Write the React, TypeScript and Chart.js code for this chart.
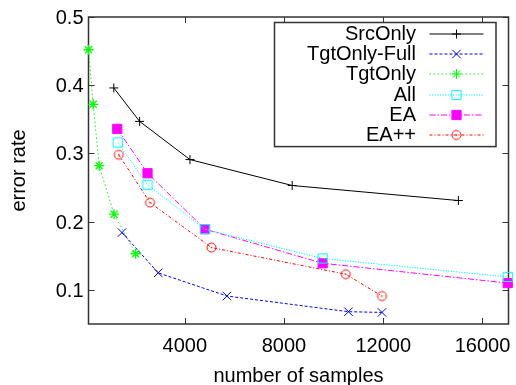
import React, { useEffect, useRef } from "react";
import { Chart, registerables } from "chart.js";
import { drawPoint } from "chart.js/helpers";

Chart.register(...registerables);

// ---- data ----
const seriesNames = ["SrcOnly", "TgtOnly-Full", "TgtOnly", "All", "EA", "EA++"];

const srcOnlyX = [1140, 2180, 4210, 8330, 15030];
const srcOnlyY = [0.396, 0.347, 0.291, 0.253, 0.231];

const tgtFullX = [1470, 2930, 5700, 10600, 11950];
const tgtFullY = [0.184, 0.125, 0.091, 0.068, 0.067];

const tgtOnlyX = [120, 310, 550, 1150, 2020];
const tgtOnlyY = [0.452, 0.372, 0.282, 0.211, 0.153];

const allX = [1300, 2500, 4810, 9560, 17020];
const allY = [0.316, 0.254, 0.189, 0.146, 0.119];

const eaX = [1280, 2500, 4820, 9560, 17020];
const eaY = [0.336, 0.271, 0.189, 0.139, 0.11];

const eappX = [1340, 2600, 5080, 10490, 11950];
const eappY = [0.298, 0.228, 0.162, 0.123, 0.091];

const xTicks = [4000, 8000, 12000, 16000];
const yTicks = [0.1, 0.2, 0.3, 0.4, 0.5];
const xRange = [120, 17050];
const yRange = [0.05, 0.5];

const xTitle = "number of samples";
const yTitle = "error rate";

// ---- styles ----
const FONT = "'Liberation Sans', Arial, Helvetica, sans-serif";
const colors = ["#000000", "#0000ff", "#00ff00", "#00ffff", "#ff00ff", "#ff0000"];
const dashes: number[][] = [[], [3, 2], [1.5, 2.5], [1.3, 1.3], [6, 2, 1.5, 2], [3, 2, 1, 2]];
const radii = [4.5, 6, 5, 6.5, 6.5, 5];
const filled = [true, true, true, false, true, false];

function makeCircleDot(r: number, color: string) {
  const size = Math.ceil(2 * r + 4);
  const c = document.createElement("canvas");
  c.width = size;
  c.height = size;
  const ctx = c.getContext("2d")!;
  ctx.strokeStyle = color;
  ctx.fillStyle = color;
  ctx.lineWidth = 1;
  ctx.beginPath();
  ctx.arc(size / 2, size / 2, r, 0, Math.PI * 2);
  ctx.stroke();
  ctx.beginPath();
  ctx.arc(size / 2, size / 2, 0.8, 0, Math.PI * 2);
  ctx.fill();
  return c;
}

const zip = (xs: number[], ys: number[]) => xs.map((x, i) => ({ x, y: ys[i] }));

// frame, inward ticks, tick labels and axis titles in gnuplot style
const frameAndTicks = {
  id: "frameAndTicks",
  beforeDatasetsDraw(chart: any) {
    const { ctx, chartArea: a, scales } = chart;
    ctx.save();
    ctx.strokeStyle = "#333";
    ctx.lineWidth = 1.5;
    ctx.strokeRect(a.left, a.top, a.right - a.left, a.bottom - a.top);
    ctx.lineWidth = 1;
    ctx.beginPath();
    const tl = 6;
    for (const t of scales.x.ticks) {
      const px = Math.round(scales.x.getPixelForValue(t.value)) + 0.5;
      ctx.moveTo(px, a.bottom);
      ctx.lineTo(px, a.bottom - tl);
      ctx.moveTo(px, a.top);
      ctx.lineTo(px, a.top + tl);
    }
    for (const t of scales.y.ticks) {
      const py = Math.round(scales.y.getPixelForValue(t.value)) + 0.5;
      ctx.moveTo(a.left, py);
      ctx.lineTo(a.left + tl, py);
      ctx.moveTo(a.right, py);
      ctx.lineTo(a.right - tl, py);
    }
    ctx.stroke();

    ctx.fillStyle = "#000";
    ctx.font = `20px ${FONT}`;
    ctx.textBaseline = "alphabetic";
    ctx.textAlign = "center";
    for (const t of scales.x.ticks) {
      const px = scales.x.getPixelForValue(t.value);
      ctx.fillText(String(t.value), px, a.bottom + 28);
    }
    ctx.textAlign = "right";
    for (const t of scales.y.ticks) {
      const py = scales.y.getPixelForValue(t.value);
      ctx.fillText(Number(t.value).toFixed(1), a.left - 5, py + 7);
    }
    ctx.textAlign = "center";
    ctx.fillText(xTitle, (a.left + a.right) / 2, a.bottom + 57.5);
    ctx.save();
    ctx.translate(25, (a.top + a.bottom) / 2);
    ctx.rotate(-Math.PI / 2);
    ctx.fillText(yTitle, 0, 0);
    ctx.restore();
    ctx.restore();
  },
};

let pointStyles: any[] = [];

const gnuLegend = {
  id: "gnuLegend",
  afterDatasetsDraw(chart: any) {
    const { ctx, chartArea: a } = chart;
    const boxLeft = a.left + 186;
    const boxRight = a.right - 12.5;
    const boxTop = a.top + 5.5;
    const rowH = 20.35;
    const n = seriesNames.length;
    const boxBottom = boxTop + 10.5 + rowH * n - 8.5;
    ctx.save();
    ctx.fillStyle = "#fff";
    ctx.fillRect(boxLeft, boxTop, boxRight - boxLeft, boxBottom - boxTop);
    ctx.strokeStyle = "#333";
    ctx.lineWidth = 1.5;
    ctx.strokeRect(boxLeft, boxTop, boxRight - boxLeft, boxBottom - boxTop);
    ctx.restore();
    const textRight = boxRight - 80;
    const lineL = boxRight - 66.5;
    const lineR = boxRight - 12.5;
    for (let i = 0; i < n; i++) {
      const y = Math.round(boxTop + 11 + rowH * i);
      ctx.save();
      ctx.font = `20px ${FONT}`;
      ctx.textAlign = "right";
      ctx.textBaseline = "alphabetic";
      ctx.fillStyle = "#000";
      ctx.fillText(seriesNames[i], textRight, y + 5.5);
      ctx.restore();

      ctx.save();
      ctx.strokeStyle = colors[i];
      ctx.lineWidth = 1;
      ctx.setLineDash(dashes[i]);
      ctx.beginPath();
      ctx.moveTo(lineL, y);
      ctx.lineTo(lineR, y);
      ctx.stroke();
      ctx.restore();

      ctx.save();
      ctx.setLineDash([]);
      ctx.strokeStyle = colors[i];
      ctx.fillStyle = filled[i] ? colors[i] : "rgba(0,0,0,0)";
      ctx.lineWidth = 1;
      drawPoint(
        ctx,
        { pointStyle: pointStyles[i], radius: radii[i], rotation: 0, borderWidth: 1 },
        (lineL + lineR) / 2,
        y
      );
      ctx.restore();
    }
  },
};

export default function App() {
  const ref = useRef<HTMLCanvasElement | null>(null);

  useEffect(() => {
    document.body.style.margin = "0";
    const canvas = ref.current!;
    const circle = makeCircleDot(4.5, colors[5]);
    pointStyles = ["cross", "crossRot", "star", "rect", "rect", circle];
    const xs = [srcOnlyX, tgtFullX, tgtOnlyX, allX, eaX, eappX];
    const ys = [srcOnlyY, tgtFullY, tgtOnlyY, allY, eaY, eappY];
    const datasets = seriesNames.map((name, i) => ({
      label: name,
      data: zip(xs[i], ys[i]),
      borderColor: colors[i],
      borderWidth: 1,
      borderDash: dashes[i],
      pointStyle: pointStyles[i],
      pointRadius: radii[i],
      pointBorderWidth: i === 2 ? 1.3 : 1,
      pointBorderColor: colors[i],
      pointBackgroundColor: filled[i] ? colors[i] : "rgba(0,0,0,0)",
      clip: false,
      tension: 0,
    }));
    const chart = new Chart(canvas, {
      type: "line",
      data: { datasets: datasets as any },
      options: {
        animation: false,
        responsive: false,
        devicePixelRatio: 1,
        layout: { padding: { top: 17, right: 3, left: 0, bottom: 0 } },
        plugins: {
          legend: { display: false },
          tooltip: { enabled: false },
        },
        scales: {
          x: {
            type: "linear",
            min: xRange[0],
            max: xRange[1],
            afterBuildTicks: (s: any) => {
              s.ticks = xTicks.map((v) => ({ value: v }));
            },
            afterFit: (s: any) => {
              s.height = 61;
            },
            grid: { display: false, drawTicks: false },
            border: { display: false },
            ticks: { display: false },
            title: { display: false },
          },
          y: {
            type: "linear",
            min: yRange[0],
            max: yRange[1],
            afterBuildTicks: (s: any) => {
              s.ticks = yTicks.map((v) => ({ value: v }));
            },
            afterFit: (s: any) => {
              s.width = 88.5;
            },
            grid: { display: false, drawTicks: false },
            border: { display: false },
            ticks: { display: false },
            title: { display: false },
          },
        },
      } as any,
      plugins: [frameAndTicks, gnuLegend],
    });
    return () => chart.destroy();
  }, []);

  return (
    <div style={{ width: 516, height: 385 }}>
      <canvas ref={ref} width={516} height={385} style={{ display: "block" }} />
    </div>
  );
}
